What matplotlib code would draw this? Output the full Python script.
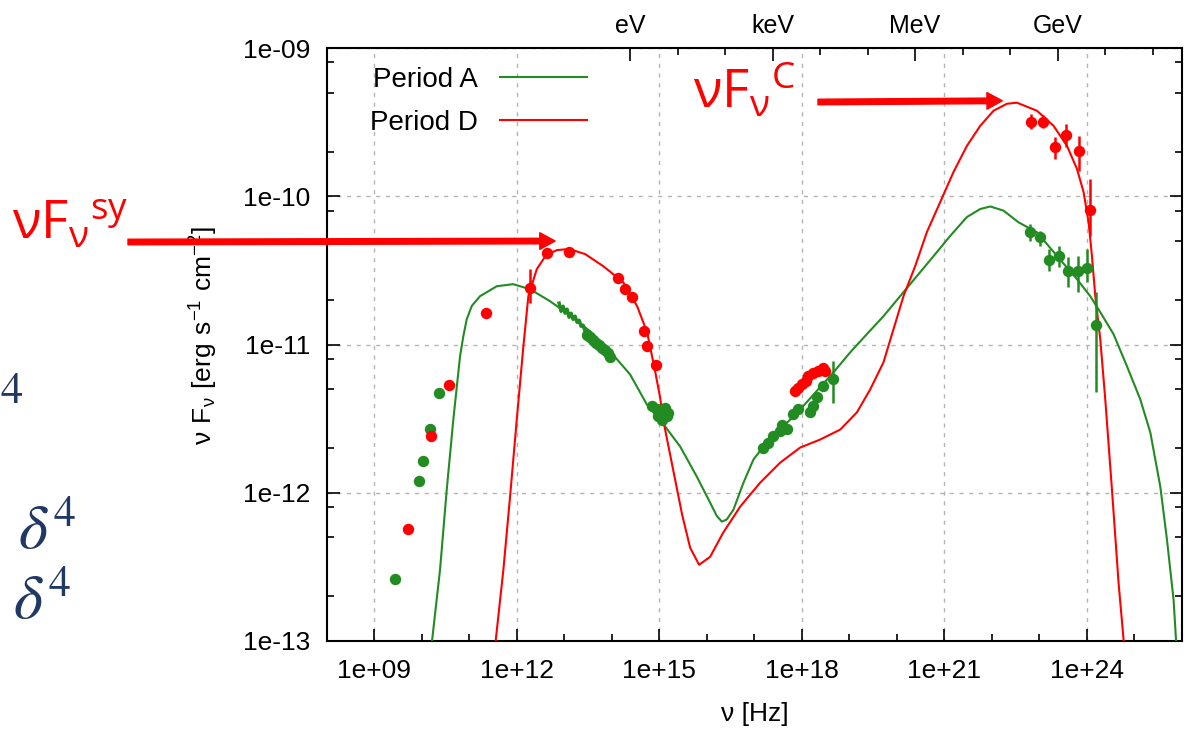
import numpy as np
import matplotlib

matplotlib.use("Agg")
import matplotlib.pyplot as plt  # noqa: E402
from matplotlib.ticker import FixedLocator, NullFormatter  # noqa: E402

plt.rcParams["font.family"] = ["Liberation Sans", "DejaVu Sans"]

GREEN = "#228b22"
RED = "#ff0000"
NAVY = "#1f3864"
W, H = 1187, 733

# model SEDs: log10(nu / Hz), log10(nuFnu / erg s-1 cm-2)
model_a_lognu = [10.19, 10.22, 10.385, 10.526, 10.665, 10.806, 10.876, 10.947, 11.053,
                 11.227, 11.579, 11.922, 12.28, 12.70, 13.122, 13.543, 13.964, 14.385,
                 14.737, 15.122, 15.438, 15.789, 16.069, 16.21, 16.316, 16.42, 16.56,
                 16.771, 16.981, 17.192, 17.965, 18.665, 19.017, 19.368, 19.718, 20.068,
                 20.42, 20.771, 21.12, 21.474, 21.754, 21.965, 22.244, 22.56, 22.947,
                 23.368, 23.789, 24.069, 24.28, 24.56, 24.842, 25.122, 25.333, 25.543,
                 25.684, 25.823, 25.874, 25.9]
model_a_logf = [-13.3, -12.99, -12.52, -11.98, -11.506, -11.08, -10.943, -10.83, -10.74,
                -10.674, -10.607, -10.593, -10.627, -10.708, -10.803, -10.911, -11.046,
                -11.202, -11.404, -11.553, -11.688, -11.891, -12.067, -12.157, -12.195,
                -12.18, -12.114, -11.932, -11.776, -11.688, -11.438, -11.188, -11.053,
                -10.93, -10.809, -10.674, -10.539, -10.404, -10.268, -10.14, -10.086,
                -10.069, -10.097, -10.176, -10.243, -10.402, -10.559, -10.674, -10.782,
                -10.931, -11.147, -11.37, -11.593, -11.958, -12.317, -12.723, -12.993, -13.3]

model_d_lognu = [11.54, 11.558, 11.718, 11.859, 12.0, 12.139, 12.244, 12.421, 12.617,
                 12.848, 13.101, 13.438, 13.817, 14.238, 14.533, 14.743, 14.912, 15.017,
                 15.08, 15.185, 15.333, 15.48, 15.649, 15.838, 16.069, 16.343, 16.701,
                 17.122, 17.543, 17.965, 18.386, 18.807, 19.158, 19.438, 19.718, 19.928,
                 20.139, 20.385, 20.632, 20.912, 21.192, 21.474, 21.754, 22.034, 22.316,
                 22.526, 22.947, 23.297, 23.579, 23.789, 23.928, 24.034, 24.105, 24.175,
                 24.28, 24.385, 24.526, 24.665, 24.771, 24.8]
model_d_logf = [-13.3, -12.993, -12.52, -12.026, -11.506, -11.012, -10.674, -10.492,
                -10.397, -10.363, -10.356, -10.39, -10.471, -10.579, -10.742, -10.917,
                -11.181, -11.357, -11.506, -11.675, -11.912, -12.148, -12.371, -12.486,
                -12.432, -12.27, -12.094, -11.932, -11.797, -11.695, -11.641, -11.574,
                -11.458, -11.303, -11.12, -10.897, -10.674, -10.471, -10.241, -10.039,
                -9.836, -9.66, -9.525, -9.423, -9.376, -9.369, -9.423, -9.525, -9.66,
                -9.815, -9.971, -10.174, -10.404, -10.674, -10.965, -11.37, -11.979,
                -12.608, -12.993, -13.3]

# period A observations
obs_a_lognu = [9.438, 9.943, 10.034, 10.175, 10.371,
               13.474, 13.543, 13.606, 13.669, 13.733, 13.796, 13.859, 13.92, 13.964,
               14.842, 14.947, 15.017, 15.122, 15.192, 15.053, 14.981, 15.158,
               17.192, 17.297, 17.402, 17.543, 17.579, 17.684, 17.823, 17.922, 18.175,
               18.238, 18.322, 18.448, 18.659,
               22.792, 23.002, 23.192, 23.402, 23.592, 23.802, 24.0, 24.189]
obs_a_logf = [-12.58, -11.923, -11.783, -11.573, -11.325,
              -10.938, -10.951, -10.972, -10.992, -11.006, -11.026, -11.04, -11.06, -11.087,
              -11.416, -11.438, -11.46, -11.427, -11.46, -11.506, -11.483, -11.483,
              -11.697, -11.663, -11.619, -11.585, -11.54, -11.573, -11.472, -11.438,
              -11.458, -11.418, -11.357, -11.283, -11.236,
              -10.239, -10.277, -10.429, -10.406, -10.503, -10.507, -10.487, -10.868]
# period A infrared spectrum
spec_a_lognu = [12.891, 12.933, 12.975, 13.017, 13.059, 13.101, 13.143, 13.185, 13.227,
                13.269, 13.312, 13.354, 13.396, 13.438]
spec_a_logf = [-10.721, -10.776, -10.742, -10.789, -10.762, -10.816, -10.789, -10.83,
               -10.809, -10.85, -10.836, -10.877, -10.87, -10.91]
# period A error bars (lognu, low, high)
err_a_lognu = [18.659, 22.792, 23.002, 23.192, 23.402, 23.592, 23.802, 24.0, 24.189]
err_a_lo = [-11.393, -10.3, -10.334, -10.503, -10.48, -10.615, -10.649, -10.581, -11.323]
err_a_hi = [-11.112, -10.187, -10.233, -10.356, -10.334, -10.413, -10.402, -10.356, -10.647]

# period D observations
obs_d_lognu = [9.709, 10.189, 10.575, 11.354, 12.28, 12.632, 13.107, 14.139, 14.28,
               14.421, 14.68, 14.749, 14.933,
               17.859, 17.928, 18.0, 18.091, 18.139, 18.244, 18.35, 18.455, 18.491,
               22.821, 23.074, 23.318, 23.564, 23.823, 24.069]
obs_d_logf = [-12.243, -11.614, -11.271, -10.789, -10.622, -10.383, -10.379, -10.552,
              -10.627, -10.679, -10.909, -11.01, -11.139,
              -11.314, -11.291, -11.269, -11.247, -11.213, -11.19, -11.179, -11.156, -11.179,
              -9.496, -9.496, -9.669, -9.59, -9.692, -10.093]
err_d_lognu = [12.28, 22.821, 23.074, 23.318, 23.564, 23.823, 24.069]
err_d_lo = [-10.72, -9.545, -9.54, -9.75, -9.667, -9.829, -10.268]
err_d_hi = [-10.49, -9.444, -9.45, -9.6, -9.511, -9.592, -9.883]

xtick_exp = [9, 12, 15, 18, 21, 24]
xtick_labels = ["1e+09", "1e+12", "1e+15", "1e+18", "1e+21", "1e+24"]
ytick_exp = [-13, -12, -11, -10, -9]
ytick_labels = ["1e-13", "1e-12", "1e-11", "1e-10", "1e-09"]
EV_HZ = 2.418e14
energy_labels = ["eV", "keV", "MeV", "GeV"]


def p10(v):
    return 10.0 ** np.asarray(v)


fig = plt.figure(figsize=(W / 100, H / 100), dpi=100)
ax = fig.add_axes([326.7 / W, 1 - 641 / H, (1182 - 326.7) / W, (641 - 48) / H])
ax.set_xscale("log")
ax.set_yscale("log")
ax.set_xlim(1e8, 1e26)
ax.set_ylim(1e-13, 1e-9)

ax.plot(p10(model_a_lognu), p10(model_a_logf), color=GREEN, lw=1.5, label="Period A", zorder=3)
ax.plot(p10(model_d_lognu), p10(model_d_logf), color=RED, lw=1.5, label="Period D", zorder=3)

ax.plot(p10(spec_a_lognu), p10(spec_a_logf), color=GREEN, lw=2.5, zorder=4)
ax.vlines(p10(err_a_lognu), p10(err_a_lo), p10(err_a_hi), color=GREEN, lw=1.8, zorder=4)
ax.plot(p10(obs_a_lognu), p10(obs_a_logf), "o", color=GREEN, ms=8.2, mec="none", zorder=4)
ax.vlines(p10(err_d_lognu), p10(err_d_lo), p10(err_d_hi), color=RED, lw=1.8, zorder=5)
ax.plot(p10(obs_d_lognu), p10(obs_d_logf), "o", color=RED, ms=8.2, mec="none", zorder=5)

# axes styling, gnuplot-like inward ticks
ax.set_xticks(p10(xtick_exp), xtick_labels)
ax.xaxis.set_minor_locator(FixedLocator(p10(np.arange(8, 27))))
ax.xaxis.set_minor_formatter(NullFormatter())
ax.set_yticks(p10(ytick_exp), ytick_labels)
ax.yaxis.set_minor_locator(FixedLocator(
    [m * 10.0 ** k for k in range(-13, -9) for m in (2, 5, 8)]))
ax.yaxis.set_minor_formatter(NullFormatter())
ax.tick_params(which="both", direction="in", top=False, right=True, width=1.2)
ax.tick_params(which="major", length=9, labelsize=19)
ax.tick_params(axis="x", which="major", pad=13)
ax.tick_params(axis="y", which="major", pad=12)
ax.tick_params(which="minor", length=5)
for s in ax.spines.values():
    s.set_linewidth(1.5)
ax.grid(True, which="major", color="#b4b4b4", linestyle=(0, (3, 4)), lw=1.0)
ax.set_xlabel("ν [Hz]", fontsize=19, labelpad=14)
ax.set_ylabel("$\\mathregular{ν\\ F_{ν}\\ [erg\\ s^{-1}\\ cm^{-2}]}$", fontsize=19,
              labelpad=16, y=0.515)

# energy scale along the top
ax2 = ax.twiny()
ax2.set_xscale("log")
ax2.set_xlim(ax.get_xlim())
ax2.set_xticks([EV_HZ * 10.0 ** (3 * k) for k in range(4)], energy_labels)
ax2.xaxis.set_minor_locator(FixedLocator([EV_HZ * 10.0 ** k for k in range(12)]))
ax2.xaxis.set_minor_formatter(NullFormatter())
ax2.tick_params(which="both", direction="in", width=1.2, labelsize=18, pad=7)
ax2.tick_params(which="major", length=9)
ax2.tick_params(which="minor", length=5)
for s in ax2.spines.values():
    s.set_visible(False)

ax.legend(loc="upper left", bbox_to_anchor=(0.051, 0.968), frameon=False,
          markerfirst=False, handlelength=3.1, handletextpad=0.8, labelspacing=0.62,
          borderpad=0, borderaxespad=0, fontsize=20)

# peak markers
ann_font = ["Open Sans", "DejaVu Sans"]
fig.text(12 / W, 1 - 240 / H, "$\\mathregular{νF_{ν}{}^{sy}}$", color=RED,
         fontsize=38, family=ann_font, ha="left", va="baseline")
fig.text(693 / W, 1 - 109 / H, "$\\mathregular{νF_{ν}{}^{C}}$", color=RED,
         fontsize=38, family=ann_font, ha="left", va="baseline")
arrow_style = "simple,head_length=0.55,head_width=0.6,tail_width=0.2"
ax.annotate("", xy=(10 ** 12.806, 10 ** -10.302), xycoords="data",
            xytext=(128, H - 242), textcoords="figure pixels", annotation_clip=False,
            arrowprops=dict(arrowstyle=arrow_style, color=RED, mutation_scale=20,
                            shrinkA=0, shrinkB=0), zorder=6)
ax.annotate("", xy=(10 ** 22.217, 10 ** -9.356), xycoords="data",
            xytext=(818, H - 102), textcoords="figure pixels", annotation_clip=False,
            arrowprops=dict(arrowstyle=arrow_style, color=RED, mutation_scale=20,
                            shrinkA=0, shrinkB=0), zorder=6)

# slide text cut off at the left edge
fig.text(0 / W, 1 - 403 / H, "$4$", color=NAVY, fontsize=32, math_fontfamily="stix",
         ha="left", va="baseline")
fig.text(18 / W, 1 - 549 / H, "$\\delta^4$", color=NAVY, fontsize=45,
         math_fontfamily="stix", ha="left", va="baseline")
fig.text(13 / W, 1 - 619 / H, "$\\delta^4$", color=NAVY, fontsize=45,
         math_fontfamily="stix", ha="left", va="baseline")

fig.savefig("out.png", dpi=100)
